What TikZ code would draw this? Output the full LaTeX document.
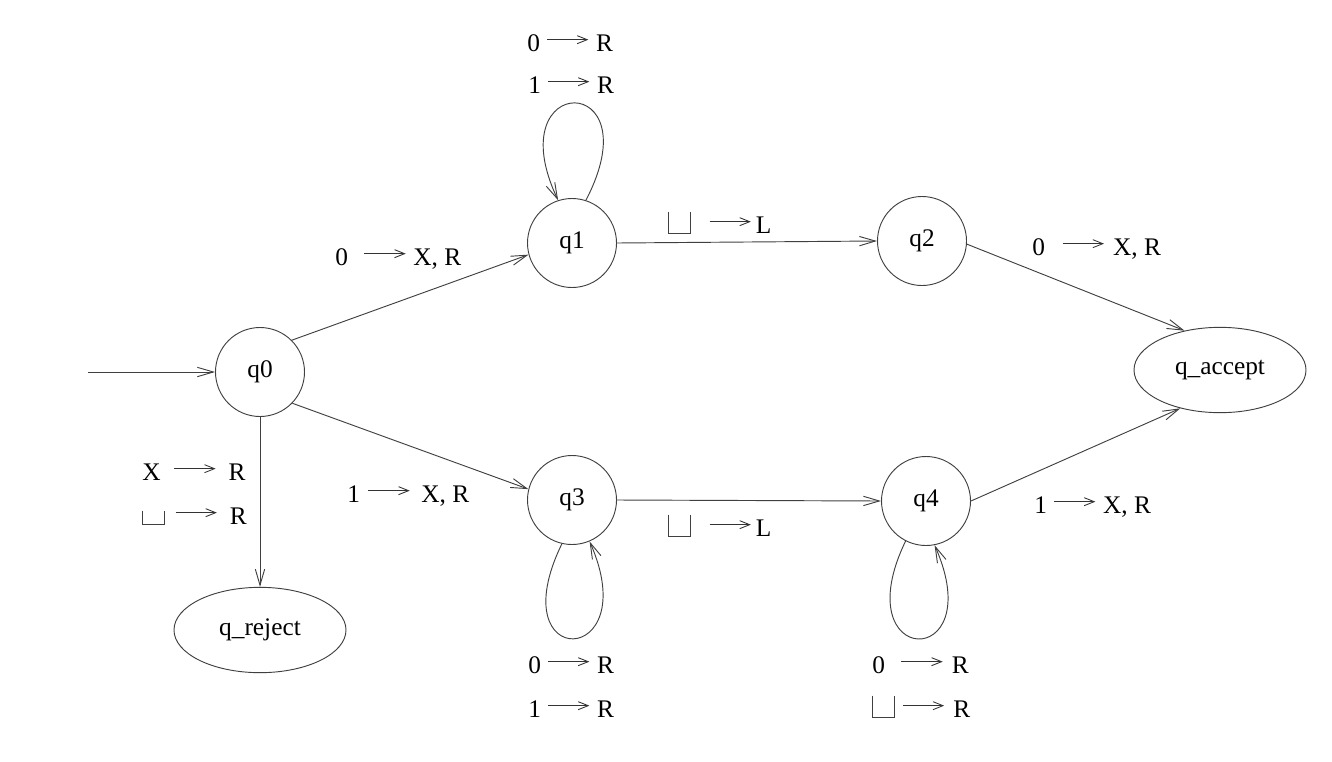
\documentclass[tikz,border=0pt]{standalone}
\usepackage{fontspec}
\setmainfont{Liberation Serif}
\usetikzlibrary{arrows.meta,shapes.geometric}

% small arrow and blank symbol used inside the transition texts
\newcommand{\tapeto}{\tikz[baseline=-8.5pt]\draw[line width=0.65pt,draw=black!80,-{Straight Barb[length=7.5pt,width=6pt]}] (0pt,0pt) -- (31pt,0pt);}
\newcommand{\blanksym}[1][16pt]{\tikz[baseline=0pt]\draw[line width=0.6pt,draw=black!75] (0pt,#1) -- (0pt,0pt) -- (16pt,0pt) -- (16pt,#1);}
\newcommand{\tmove}[4]{#1\hspace{#2}\tapeto\hspace{#3}#4}

\begin{document}
\begin{tikzpicture}[x=0.75pt,y=-0.75pt,
  every node/.style={font=\fontsize{19}{22}\selectfont},
  state/.style={circle,draw=black!75,line width=0.7pt,minimum size=66.75pt,inner sep=0pt},
  halt/.style={ellipse,draw=black!75,line width=0.7pt,minimum width=129pt,minimum height=64pt,inner sep=0pt},
  trans/.style={draw=black!75,line width=0.7pt,-{Straight Barb[length=12pt,width=7pt]}},
  ruletext/.style={anchor=base west,inner sep=0pt}]
\useasboundingbox (0,0) rectangle (1332,761);

%States
\node[state] (q0) at (260,372) {q0};
\node[state] (q1) at (572,243) {q1};
\node[state] (q2) at (922,241) {q2};
\node[state] (q3) at (572,500) {q3};
\node[state] (q4) at (926,501) {q4};
\node[halt] (qacc) at (1220,370) {q\_accept};
\node[halt] (qrej) at (260,630) {q\_reject};
\coordinate (start) at (88,372);

%Straight Lines
\draw[trans] (start) -- (q0);
\draw[trans] (q0.45) -- (q1.195);
\draw[trans] (q0.-44) -- (q3.166);
\draw[trans] (q1.east) -- (q2.west);
\draw[trans] (q3.east) -- (q4.west);
\draw[trans] (q2.-4) -- (qacc.132);
\draw[trans] (q4.east) -- (qacc.-136);
\draw[trans] (q0.south) -- (qrej.north);

%Loops
\draw[trans] (q1.72) .. controls +(68,-130) and +(-61,-129) .. (q1.108);
\draw[trans] (q3.-103) .. controls +(-63,129) and +(56,127) .. (q3.-67);
\draw[trans] (q4.-117) .. controls +(-62,128) and +(56,127) .. (q4.-79);

% Text Node
\node[ruletext] (r1) at (527,51) {\tmove{0}{5pt}{5pt}{R}};
\node[ruletext] (r2) at (528,93) {\tmove{1}{5pt}{5pt}{R}};
\node[ruletext] (r3) at (335,265) {\tmove{0}{12pt}{5pt}{X, R}};
\node[ruletext] (r4) at (668,233) {\tmove{\blanksym}{14pt}{3pt}{L}};
\node[ruletext] (r5) at (1032,255) {\tmove{0}{13pt}{6pt}{X, R}};
\node[ruletext] (r6) at (142,480) {\tmove{X}{10pt}{9pt}{R}};
\node[ruletext] (r7) at (142,524) {\tmove{\blanksym[10pt]}{8pt}{9pt}{R}};
\node[ruletext] (r8) at (347,502) {\tmove{1}{6pt}{8pt}{X, R}};
\node[ruletext] (r9) at (668,536) {\tmove{\blanksym}{14pt}{3pt}{L}};
\node[ruletext] (r10) at (1034,513) {\tmove{1}{5pt}{5pt}{X, R}};
\node[ruletext] (r11) at (528,673) {\tmove{0}{5pt}{5pt}{R}};
\node[ruletext] (r12) at (528,717) {\tmove{1}{5pt}{5pt}{R}};
\node[ruletext] (r13) at (872,673) {\tmove{0}{12pt}{6pt}{R}};
\node[ruletext] (r14) at (872,717) {\tmove{\blanksym}{6pt}{6pt}{R}};

\end{tikzpicture}
\end{document}
